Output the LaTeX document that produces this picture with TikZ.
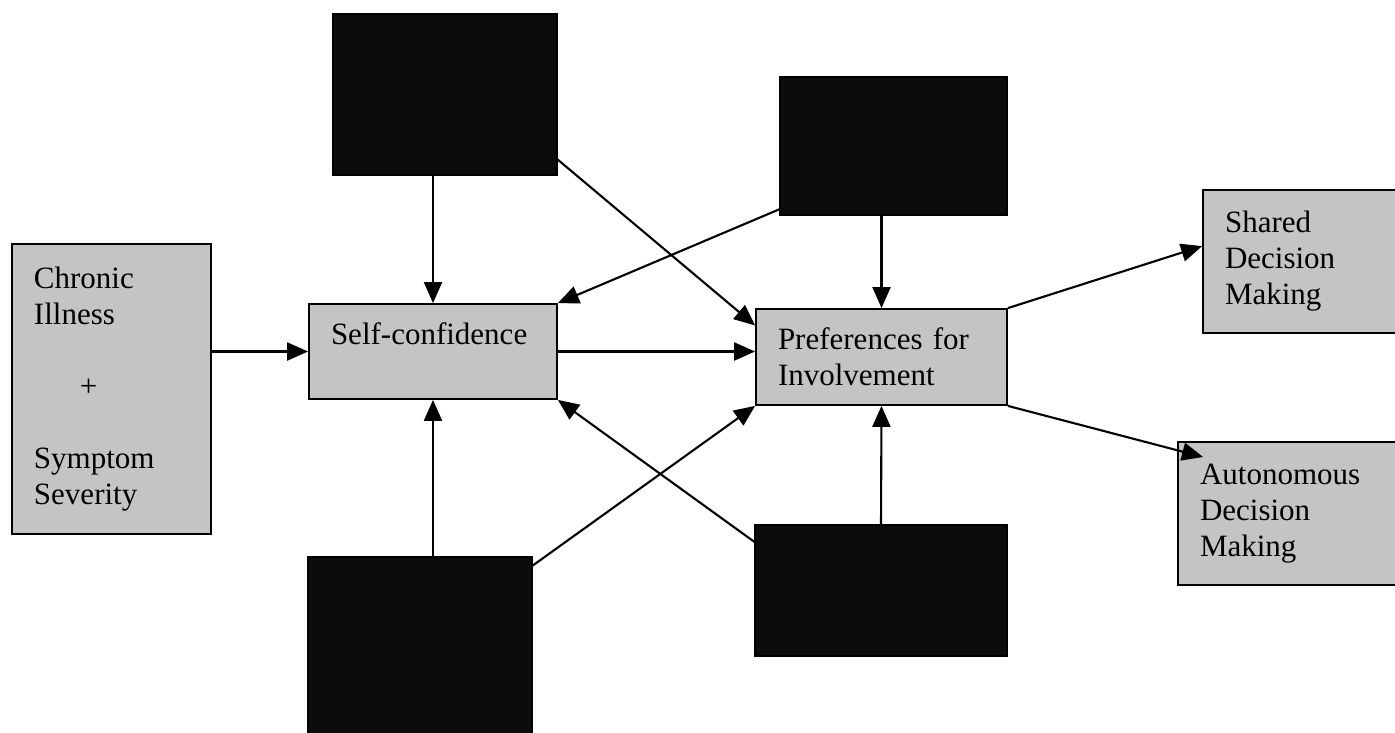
\documentclass[tikz,border=0pt]{standalone}
\usepackage{fontspec}
\setmainfont{Liberation Serif}
\usetikzlibrary{arrows.meta,calc}
\definecolor{boxgray}{RGB}{196,196,196}
\definecolor{boxdark}{RGB}{12,12,12}
\tikzset{
  graybox/.style={draw=black, line width=1.8pt, fill=boxgray, rectangle,
    inner xsep=22pt, inner ysep=0pt, align=left,
    font=\fontsize{31}{36}\selectfont},
  darkbox/.style={draw=black, line width=1.2pt, fill=boxdark, rectangle, inner sep=0pt},
  conn/.style={line width=2.1pt, -{Triangle[length=21pt,width=18pt]}}
}
\begin{document}
\begin{tikzpicture}[x=1pt,y=-1pt]
\useasboundingbox (0,0) rectangle (1395,733);
% light boxes
\node[graybox, minimum width=199pt, minimum height=290pt, text width=155pt] (chronic) at (111.5,389)
  {Chronic\\Illness\\[36pt]\hspace*{46pt}+\\[36pt]Symptom\\Severity};
\node[graybox, minimum width=248pt, minimum height=95pt, text width=204pt, text height=22pt, text depth=36pt] (self) at (433,351.5) {Self-confidence};
\node[graybox, minimum width=251pt, minimum height=96pt, text width=207pt] (pref) at (881.5,357) {Preferences for\\Involvement};
\node[graybox, minimum width=217pt, minimum height=143pt, text width=173pt] (shared) at (1311.5,261.5) {Shared\\Decision\\Making};
\node[graybox, minimum width=242pt, minimum height=143pt, text width=198pt] (auton) at (1299,513.5) {Autonomous\\Decision\\Making};
% dark boxes
\node[darkbox, minimum width=224pt, minimum height=161pt] (tl) at (445,94.5) {};
\node[darkbox, minimum width=227pt, minimum height=138pt] (tr) at (893.5,146) {};
\node[darkbox, minimum width=224pt, minimum height=213pt] (bl) at (420,663.5) {};
\node[darkbox, minimum width=252pt, minimum height=131pt] (br) at (881,590.5) {};
\coordinate (atip) at (1203,457);
% connectors
\draw[conn] (chronic.east |- self.west) -- (self.west);
\draw[conn] (tl.south -| self.north) -- (self.north);
\draw[conn] (tl.-30) -- (pref.166);
\draw[conn] (tr.209) -- (self.north east);
\draw[conn] (tr.south -| pref.north) -- (pref.north);
\draw[conn] (self.east) -- (self.east -| pref.west);
\draw[conn] (bl.41) -- (pref.south west);
\draw[conn] (bl.north -| self.south) -- (self.south);
\draw[conn] (br.159) -- (self.south east);
\draw[conn] (br.north) -- (pref.south);
\draw[conn] (pref.north east) -- (shared.172);
\draw[conn] (pref.south east) -- (atip);
\end{tikzpicture}
\end{document}
